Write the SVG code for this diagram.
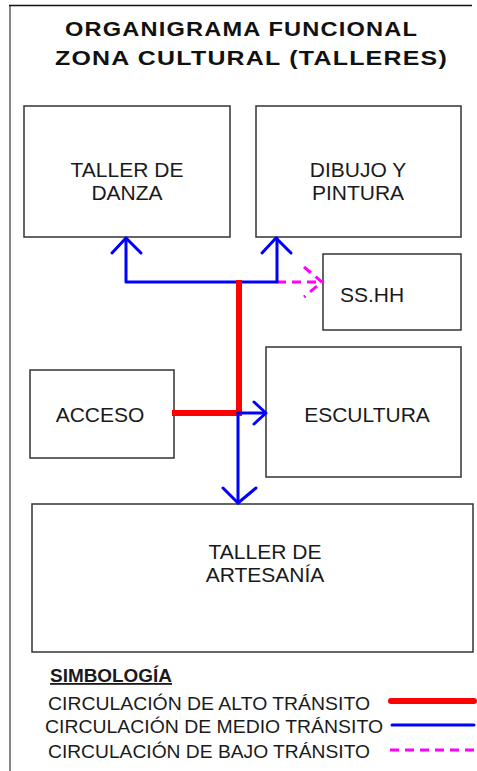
<svg xmlns="http://www.w3.org/2000/svg" width="477" height="771" viewBox="0 0 477 771">
<style>
.box{fill:#fff;stroke:#333;stroke-width:1.5}
.lbl{font-family:"Liberation Sans",Arial,sans-serif;font-size:21px;fill:#1a1a1a;text-anchor:middle}
.ttl{font-family:"Liberation Sans",Arial,sans-serif;font-size:20px;font-weight:bold;fill:#111}
.leg{font-family:"Liberation Sans",Arial,sans-serif;font-size:18px;fill:#1a1a1a}
.hi{stroke:#ff0000;stroke-width:6;fill:none}
.md{stroke:#0000ff;stroke-width:3;fill:none;stroke-linecap:round;stroke-linejoin:round}
.lo{stroke:#ff00ff;stroke-width:3;fill:none;stroke-dasharray:9,6}
</style>
<rect width="477" height="771" fill="#fff"/>
<g id="frame">
<line x1="10" y1="5" x2="10" y2="771" stroke="#888" stroke-width="2"/>
<line x1="9" y1="5.5" x2="472" y2="5.5" stroke="#111" stroke-width="1.5"/>
</g>
<g id="title">
<text class="ttl" x="65" y="36" textLength="353" lengthAdjust="spacingAndGlyphs" letter-spacing="1">ORGANIGRAMA FUNCIONAL</text>
<text class="ttl" x="55" y="65" textLength="393" lengthAdjust="spacingAndGlyphs" letter-spacing="1">ZONA CULTURAL (TALLERES)</text>
</g>
<g id="taller-danza">
<rect class="box" x="24" y="106" width="206" height="131"/>
<text class="lbl" x="127" y="177">TALLER DE</text>
<text class="lbl" x="127" y="200">DANZA</text>
</g>
<g id="dibujo-pintura">
<rect class="box" x="256" y="106" width="205" height="131"/>
<text class="lbl" x="358" y="177">DIBUJO Y</text>
<text class="lbl" x="358" y="200">PINTURA</text>
</g>
<g id="sshh">
<rect class="box" x="323" y="254" width="138" height="76"/>
<text class="lbl" x="372" y="302">SS.HH</text>
</g>
<g id="escultura">
<rect class="box" x="266" y="347" width="195" height="130"/>
<text class="lbl" x="367" y="422">ESCULTURA</text>
</g>
<g id="acceso">
<rect class="box" x="30" y="370" width="144" height="88"/>
<text class="lbl" x="100" y="422">ACCESO</text>
</g>
<g id="taller-artesania">
<rect class="box" x="32" y="504" width="441" height="148"/>
<text class="lbl" x="265" y="559">TALLER DE</text>
<text class="lbl" x="265" y="582">ARTESANÍA</text>
</g>
<g id="connectors">
<path class="lo" d="M277,282 H322"/>
<path class="lo" d="M304,267 L322,282 L304,297" stroke-dasharray="7,5"/>
<path class="md" d="M126,238 V282 H277 V238"/>
<path class="md" d="M112,253 L126,238 L141,253"/>
<path class="md" d="M262,253 L276,238 L291,253"/>
<path class="hi" d="M239,280 V413"/>
<path class="hi" d="M172,413 H242"/>
<path class="md" d="M238,413 H265"/>
<path class="md" d="M254,402 L266,413 L254,424"/>
<path class="md" d="M238,413 V503"/>
<path class="md" d="M223,488 L238,503 L256,488"/>
</g>
<g id="legend">
<text class="leg" x="50" y="682" font-weight="bold" text-decoration="underline" textLength="122" lengthAdjust="spacingAndGlyphs">SIMBOLOGÍA</text>
<text class="leg" x="48" y="710" textLength="322" lengthAdjust="spacingAndGlyphs">CIRCULACIÓN DE ALTO TRÁNSITO</text>
<text class="leg" x="45" y="733" textLength="338" lengthAdjust="spacingAndGlyphs">CIRCULACIÓN DE MEDIO TRÁNSITO</text>
<text class="leg" x="48" y="758" textLength="322" lengthAdjust="spacingAndGlyphs">CIRCULACIÓN DE BAJO TRÁNSITO</text>
<line class="hi" x1="391" y1="701" x2="474" y2="701" stroke-width="5" stroke-linecap="round"/>
<line class="md" x1="392" y1="725" x2="474" y2="725"/>
<line class="lo" x1="390" y1="750" x2="475" y2="750" stroke-dasharray="10,6"/>
</g>
</svg>
